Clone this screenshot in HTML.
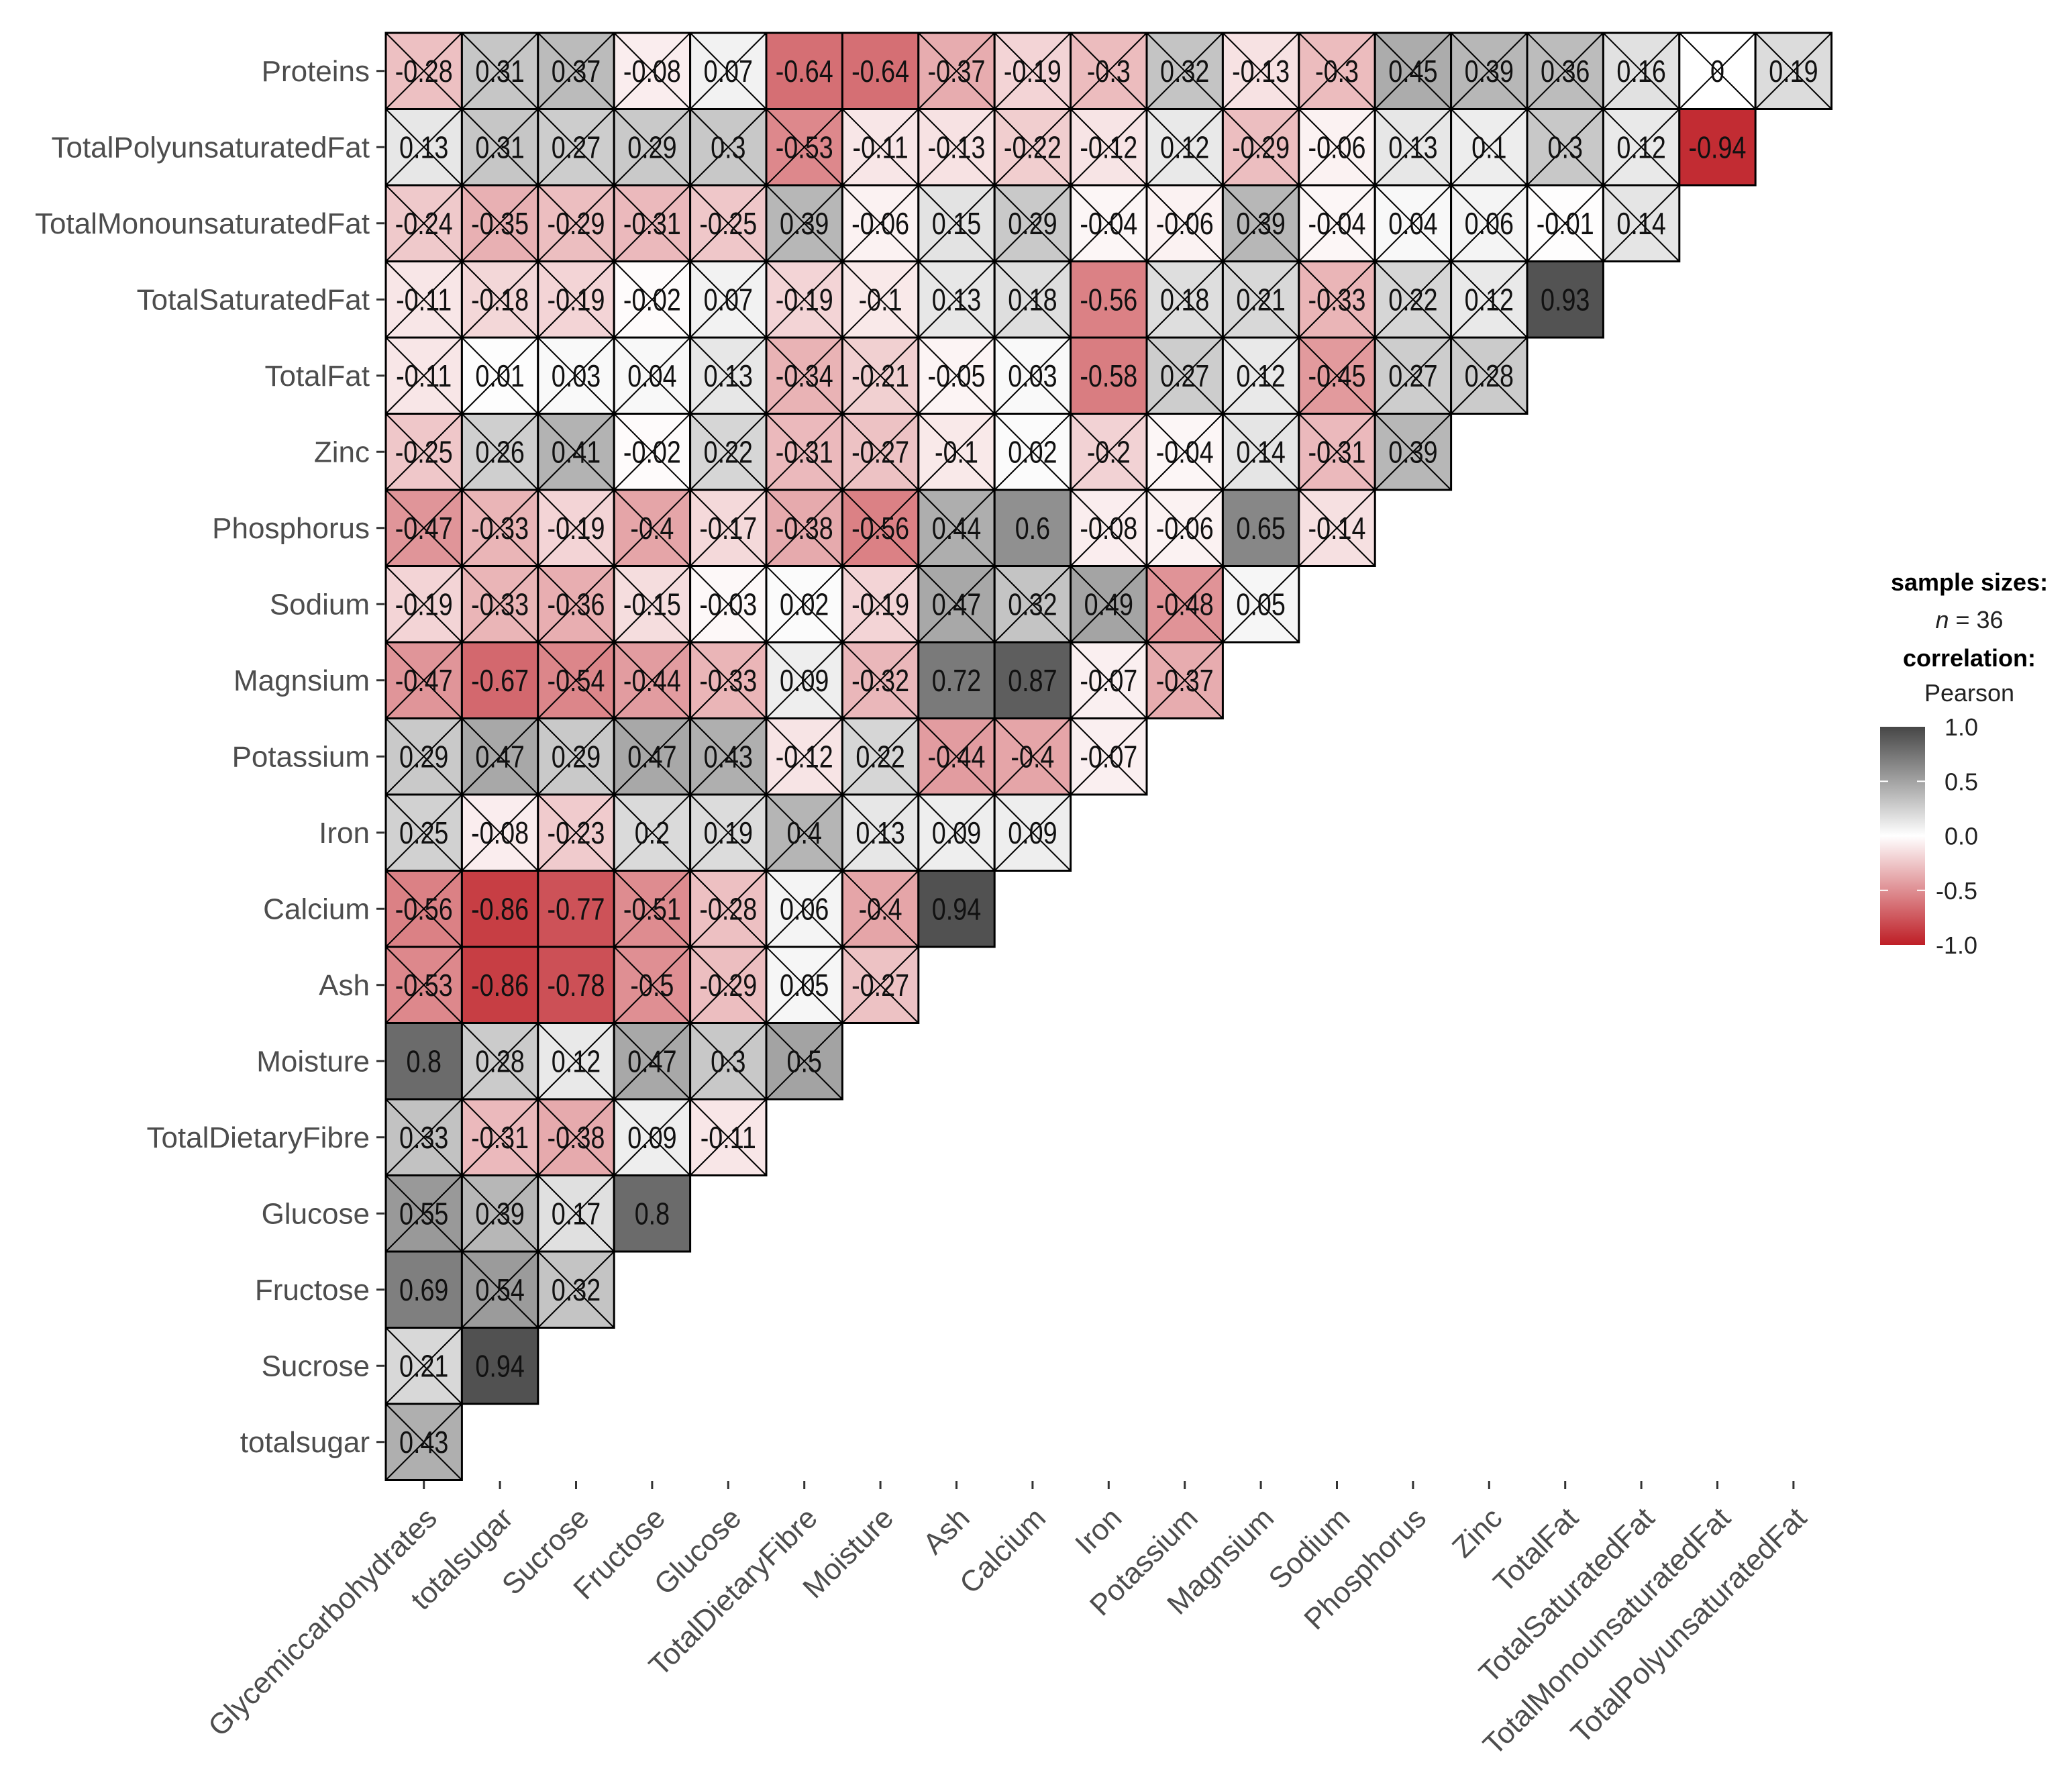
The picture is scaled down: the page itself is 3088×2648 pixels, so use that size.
<!DOCTYPE html>
<html><head><meta charset="utf-8"><style>
html,body{margin:0;padding:0;background:#fff;}
svg{display:block;font-family:"Liberation Sans",Arial,sans-serif;}
</style></head><body>
<svg id="chart" width="3088" height="2648" viewBox="0 0 3088 2648" xmlns="http://www.w3.org/2000/svg">
<rect width="3088" height="2648" fill="#fff"/>
<g id="cells"></g>
<g id="yaxis"></g>
<g id="xaxis"></g>
<g id="legend">
<text x="2935" y="880" text-anchor="middle" font-size="36" font-weight="bold" fill="#000">sample sizes:</text>
<text x="2935" y="936" text-anchor="middle" font-size="36" fill="#222"><tspan font-style="italic">n</tspan> = 36</text>
<text x="2935" y="993" text-anchor="middle" font-size="36" font-weight="bold" fill="#000">correlation:</text>
<text x="2935" y="1045" text-anchor="middle" font-size="36" fill="#222">Pearson</text>
<defs><linearGradient id="cb" x1="0" y1="0" x2="0" y2="1">
<stop offset="0" stop-color="rgb(70,70,70)"/><stop offset="0.5" stop-color="#fff"/><stop offset="1" stop-color="rgb(190,30,38)"/>
</linearGradient></defs>
<rect x="2802" y="1083" width="67" height="325" fill="url(#cb)"/>
<g id="cbticks"></g>
</g>
</svg>
<script>
const xLabels = ["Glycemiccarbohydrates","totalsugar","Sucrose","Fructose","Glucose","TotalDietaryFibre","Moisture","Ash","Calcium","Iron","Potassium","Magnsium","Sodium","Phosphorus","Zinc","TotalFat","TotalSaturatedFat","TotalMonounsaturatedFat","TotalPolyunsaturatedFat"];
const yLabels = ["Proteins","TotalPolyunsaturatedFat","TotalMonounsaturatedFat","TotalSaturatedFat","TotalFat","Zinc","Phosphorus","Sodium","Magnsium","Potassium","Iron","Calcium","Ash","Moisture","TotalDietaryFibre","Glucose","Fructose","Sucrose","totalsugar"];
const rowProteins = [-0.28,0.31,0.37,-0.08,0.07,-0.64,-0.64,-0.37,-0.19,-0.3,0.32,-0.13,-0.3,0.45,0.39,0.36,0.16,0,0.19];
const rowPoly = [0.13,0.31,0.27,0.29,0.3,-0.53,-0.11,-0.13,-0.22,-0.12,0.12,-0.29,-0.06,0.13,0.1,0.3,0.12,-0.94];
const rowMono = [-0.24,-0.35,-0.29,-0.31,-0.25,0.39,-0.06,0.15,0.29,-0.04,-0.06,0.39,-0.04,0.04,0.06,-0.01,0.14];
const rowSat = [-0.11,-0.18,-0.19,-0.02,0.07,-0.19,-0.1,0.13,0.18,-0.56,0.18,0.21,-0.33,0.22,0.12,0.93];
const rowFat = [-0.11,0.01,0.03,0.04,0.13,-0.34,-0.21,-0.05,0.03,-0.58,0.27,0.12,-0.45,0.27,0.28];
const rowZinc = [-0.25,0.26,0.41,-0.02,0.22,-0.31,-0.27,-0.1,0.02,-0.2,-0.04,0.14,-0.31,0.39];
const rowPhos = [-0.47,-0.33,-0.19,-0.4,-0.17,-0.38,-0.56,0.44,0.6,-0.08,-0.06,0.65,-0.14];
const rowSodium = [-0.19,-0.33,-0.36,-0.15,-0.03,0.02,-0.19,0.47,0.32,0.49,-0.48,0.05];
const rowMag = [-0.47,-0.67,-0.54,-0.44,-0.33,0.09,-0.32,0.72,0.87,-0.07,-0.37];
const rowPot = [0.29,0.47,0.29,0.47,0.43,-0.12,0.22,-0.44,-0.4,-0.07];
const rowIron = [0.25,-0.08,-0.23,0.2,0.19,0.4,0.13,0.09,0.09];
const rowCalcium = [-0.56,-0.86,-0.77,-0.51,-0.28,0.06,-0.4,0.94];
const rowAsh = [-0.53,-0.86,-0.78,-0.5,-0.29,0.05,-0.27];
const rowMoist = [0.8,0.28,0.12,0.47,0.3,0.5];
const rowFibre = [0.33,-0.31,-0.38,0.09,-0.11];
const rowGlucose = [0.55,0.39,0.17,0.8];
const rowFructose = [0.69,0.54,0.32];
const rowSucrose = [0.21,0.94];
const rowTotalsugar = [0.43];
const sigThreshold = 0.57;
const sigExtra = [[3,9]];
const colorTicks = [1.0,0.5,0.0,-0.5,-1.0];
const colorTickLabels = ["1.0","0.5","0.0","-0.5","-1.0"];

const rows=[rowProteins,rowPoly,rowMono,rowSat,rowFat,rowZinc,rowPhos,rowSodium,rowMag,rowPot,rowIron,rowCalcium,rowAsh,rowMoist,rowFibre,rowGlucose,rowFructose,rowSucrose,rowTotalsugar];
const NS="http://www.w3.org/2000/svg";
const X0=575,Y0=49,CW=113.4,CH=113.5;
const xPos=i=>X0+i*CW, yPos=j=>Y0+j*CH;
function color(r){
  const hi=[70,70,70],lo=[190,30,38];
  const t=Math.min(1,Math.abs(r)), e=r>=0?hi:lo;
  return "rgb("+e.map(c=>Math.round(255+(c-255)*t)).join(",")+")";
}
function mk(tag,attrs,parent){const el=document.createElementNS(NS,tag);for(const k in attrs)el.setAttribute(k,attrs[k]);parent.appendChild(el);return el;}
const cells=document.getElementById("cells");
rows.forEach((row,j)=>{
  row.forEach((v,i)=>{
    const x=xPos(i),y=yPos(j);
    const g=mk("g",{},cells);
    
    
    mk("rect",{x:x,y:y,width:CW,height:CH,fill:color(v),stroke:"#000","stroke-width":3},g);
    const sig=Math.abs(v)>=sigThreshold||sigExtra.some(p=>p[0]===j&&p[1]===i);
    if(!sig){
      mk("line",{x1:x,y1:y,x2:x+CW,y2:y+CH,stroke:"#000","stroke-width":2},g);
      mk("line",{x1:x+CW,y1:y,x2:x,y2:y+CH,stroke:"#000","stroke-width":2},g);
    }
    const t=mk("text",{transform:"translate("+(x+CW/2)+","+(y+CH/2+16)+") scale(0.82,1)","text-anchor":"middle","font-size":46,fill:"#111"},g);
    t.textContent=String(v);
  });
});
const yax=document.getElementById("yaxis");
yLabels.forEach((l,j)=>{
  const cy=yPos(j)+CH/2;
  const tk=mk("line",{x1:561,y1:cy,x2:573,y2:cy,stroke:"#333","stroke-width":3},yax);
  
  
  const t=mk("text",{x:551,y:cy+15,"text-anchor":"end","font-size":44,fill:"#4d4d4d"},yax);
  
  
  t.textContent=l;
});
const xax=document.getElementById("xaxis");
xLabels.forEach((l,i)=>{
  const cx=xPos(i)+CW/2;
  const tk=mk("line",{x1:cx,y1:2207,x2:cx,y2:2219,stroke:"#333","stroke-width":3},xax);
  
  
  const t=mk("text",{transform:"translate("+(cx+22)+",2265) rotate(-45)","text-anchor":"end","font-size":44,fill:"#4d4d4d"},xax);
  
  
  t.textContent=l;
});
const cbt=document.getElementById("cbticks");
const cbY=v=>1083+(1-v)/2*325;
colorTicks.forEach((v,k)=>{
  const y=cbY(v);
  if(Math.abs(v)===0.5){
    mk("line",{x1:2802,y1:y,x2:2814,y2:y,stroke:"#fff","stroke-width":2},cbt);
    mk("line",{x1:2857,y1:y,x2:2869,y2:y,stroke:"#fff","stroke-width":2},cbt);
  }
  const t=mk("text",{x:v<0?2885:2898,y:y+13,"font-size":36,fill:"#222"},cbt);
  
  
  t.textContent=colorTickLabels[k];
});
</script>
</body></html>
